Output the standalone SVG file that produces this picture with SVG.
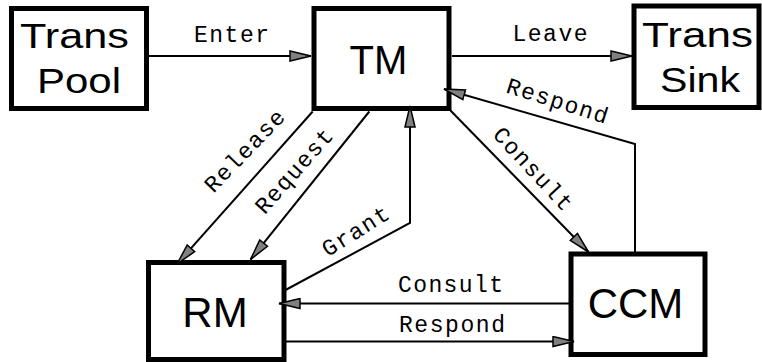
<svg xmlns="http://www.w3.org/2000/svg" width="762" height="362" viewBox="0 0 762 362">
<defs>
<marker id="ah" markerUnits="userSpaceOnUse" viewBox="0 0 23 12" refX="22" refY="6" markerWidth="23" markerHeight="12" orient="auto">
<path d="M1,1 L22,6 L1,11 Z" fill="#808080" stroke="#000" stroke-width="1.5" stroke-linejoin="miter"/>
</marker>
<style>
.box{fill:#fff;stroke:#000;stroke-width:5}
.nt{font-family:"Liberation Sans",Arial,sans-serif;fill:#000}
.ln{fill:none;stroke:#000;stroke-width:2;marker-end:url(#ah)}
.lb{font-family:"Liberation Mono","Courier New",monospace;font-size:23px;fill:#000;text-anchor:middle}
</style>
</defs>
<rect width="762" height="362" fill="#fff"/>
<g id="transpool">
<rect class="box" x="11.5" y="8.5" width="135" height="100"/>
<text class="nt" x="20" y="48" font-size="35" textLength="109" lengthAdjust="spacingAndGlyphs">Trans</text>
<text class="nt" x="37" y="93" font-size="35" textLength="84" lengthAdjust="spacingAndGlyphs">Pool</text>
</g>
<g id="tm">
<rect class="box" x="314" y="8.5" width="135" height="100"/>
<text class="nt" x="378.5" y="74" font-size="40" text-anchor="middle">TM</text>
</g>
<g id="transsink">
<rect class="box" x="634" y="6" width="125" height="101.5"/>
<text class="nt" x="642" y="47" font-size="35" textLength="111" lengthAdjust="spacingAndGlyphs">Trans</text>
<text class="nt" x="660" y="92" font-size="35" textLength="80" lengthAdjust="spacingAndGlyphs">Sink</text>
</g>
<g id="rm">
<rect class="box" x="148.5" y="262.5" width="135.5" height="97"/>
<text class="nt" x="215" y="326.5" font-size="42" text-anchor="middle">RM</text>
</g>
<g id="ccm">
<rect class="box" x="571" y="254" width="134" height="100.5"/>
<text class="nt" x="635.5" y="318" font-size="42" text-anchor="middle">CCM</text>
</g>
<g id="connectors">
<path class="ln" d="M149,56 L311,56"/>
<text class="lb" x="231.5" y="41.5" textLength="75">Enter</text>
<path class="ln" d="M452,56 L632,56"/>
<text class="lb" x="550" y="41" textLength="75">Leave</text>
<path class="ln" d="M312.7,111.5 L177,264"/>
<text class="lb" x="250" y="156" textLength="105" transform="rotate(-46 250 156)">Release</text>
<path class="ln" d="M369.3,111.5 L250.5,259.5"/>
<text class="lb" x="299.5" y="176" textLength="105" transform="rotate(-48.5 299.5 176)">Request</text>
<path class="ln" d="M285.5,290 L410,223 L410,106"/>
<text class="lb" x="359.5" y="237.5" textLength="75" transform="rotate(-32 359.5 237.5)">Grant</text>
<path class="ln" d="M450.5,110.5 L588.5,252"/>
<text class="lb" x="527.5" y="174" textLength="105" transform="rotate(47 527.5 174)">Consult</text>
<path class="ln" d="M635,254 L635,144 L444,89"/>
<text class="lb" x="555" y="108" textLength="105" transform="rotate(17.5 555 108)">Respond</text>
<path class="ln" d="M571,303.5 L279,303.5"/>
<text class="lb" x="450.5" y="291.5" textLength="105">Consult</text>
<path class="ln" d="M286,341.5 L574,341.5"/>
<text class="lb" x="452" y="331.5" textLength="106">Respond</text>
</g>
</svg>
